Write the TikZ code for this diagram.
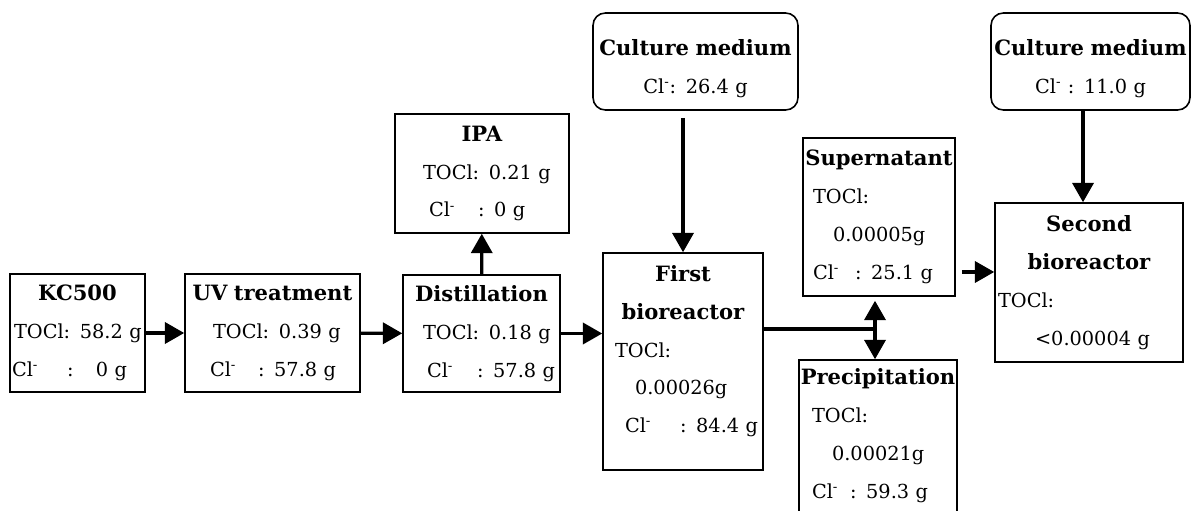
\documentclass[tikz,border=0pt]{standalone}
\usepackage{fontspec}
\setmainfont{DejaVu Serif}
\usetikzlibrary{arrows.meta, positioning, calc}
\newcommand{\clpart}[1]{\makebox[#1][l]{Cl\textsuperscript{-}}}
\newcommand{\unithead}[1]{\makebox[\linewidth][c]{\fontsize{12}{21.6}\selectfont\textbf{#1}}}
\newcommand{\padbelow}[1]{\rule[-#1]{0pt}{0pt}}
\newcommand{\padabove}[1]{\rule{0pt}{#1}}
\tikzset{
  unitbox/.style={draw=black, line width=0.9pt, inner xsep=0pt, inner ysep=0pt, align=left, font=\fontsize{11}{21.6}\selectfont},
  mediumbox/.style={unitbox, rounded corners=7pt, align=center},
  flowline/.style={-{Triangle[length=11pt, width=12pt]}, line width=1.9pt},
  splitline/.style={line width=1.9pt}
}
\begin{document}
\begin{tikzpicture}[x=0.02cm, y=-0.02cm]
  \useasboundingbox (0,0) rectangle (1192,510);

  % main line: feed, UV, distillation
  \node[unitbox, text width=2.7cm, minimum height=2.36cm] (kc) at (77.5,333)
    {\unithead{KC500}\\ \hspace*{0.08cm}TOCl: 58.2 g\\ \hspace*{0.04cm}\clpart{1.1cm}:\hspace{0.45cm}0 g};
  \node[unitbox, text width=3.5cm, minimum height=2.36cm] (uv) at (272.5,333)
    {\unithead{UV treatment}\\ \hspace*{0.56cm}TOCl: 0.39 g\\ \hspace*{0.5cm}\clpart{0.96cm}: 57.8 g};
  \node[unitbox, text width=3.14cm, minimum height=2.34cm] (dist) at (481.5,333.5)
    {\unithead{Distillation}\\ \hspace*{0.4cm}TOCl: 0.18 g\\ \hspace*{0.48cm}\clpart{1.0cm}: 57.8 g};
  \node[unitbox, text width=3.48cm, minimum height=2.38cm] (ipa) at (482,173.5)
    {\unithead{IPA}\\ \hspace*{0.56cm}TOCl: 0.21 g\\ \hspace*{0.68cm}\clpart{0.98cm}: 0 g};

  % bioreactors and their media
  \node[mediumbox, text width=4.1cm, minimum height=1.94cm] (cult1) at (695.5,61.5)
    {\padabove{0.6cm}\unithead{Culture medium}\\ Cl\textsuperscript{-}: 26.4 g};
  \node[unitbox, text width=3.2cm, minimum height=4.34cm] (first) at (683,361.5)
    {\unithead{First}\\ \unithead{bioreactor}\\ \hspace*{0.24cm}TOCl:\\ \hspace*{0.64cm}0.00026g\\ \hspace*{0.44cm}\clpart{1.1cm}: 84.4 g\padbelow{0.5cm}};
  \node[unitbox, text width=3.04cm, minimum height=3.16cm] (super) at (879,217)
    {\unithead{Supernatant}\\ \hspace*{0.2cm}TOCl:\\ \hspace*{0.6cm}0.00005g\\ \hspace*{0.2cm}\clpart{0.84cm}: 25.1 g};
  \node[unitbox, text width=3.16cm, minimum height=3.04cm] (precip) at (878,436)
    {\unithead{Precipitation}\\ \hspace*{0.26cm}TOCl:\\ \hspace*{0.66cm}0.00021g\\ \hspace*{0.26cm}\clpart{0.76cm}: 59.3 g};
  \node[mediumbox, text width=3.98cm, minimum height=1.94cm] (cult2) at (1090.5,61.5)
    {\padabove{0.6cm}\unithead{Culture medium}\\ Cl\textsuperscript{-} : 11.0 g};
  \node[unitbox, text width=3.76cm, minimum height=3.18cm] (second) at (1089,282.5)
    {\unithead{Second}\\ \unithead{bioreactor}\\ \hspace*{0.06cm}TOCl:\\ \hspace*{0.8cm}<0.00004 g};

  \draw[flowline] (kc) -- (uv);
  \draw[flowline] (uv) -- (dist);
  \draw[flowline] (dist) -- (ipa);
  \draw[flowline] (dist.east) -- (dist.east -| first.west);
  \draw[flowline, shorten <=0.14cm] (first.north |- cult1.south) -- (first.north);

  \coordinate (split) at (875,329);
  \draw[splitline] (split -| first.east) -- (split);
  \draw[flowline, shorten >=0.08cm] (split) -- (split |- super.south);
  \draw[flowline] (split) -- (split |- precip.north);

  \draw[flowline, shorten <=0.12cm] ([yshift=-1.1cm]super.east) -- ([yshift=-1.1cm]super.east -| second.west);
  \draw[flowline] ([xshift=-0.15cm]cult2.south) -- ([xshift=-0.15cm]cult2.south |- second.north);
\end{tikzpicture}
\end{document}
